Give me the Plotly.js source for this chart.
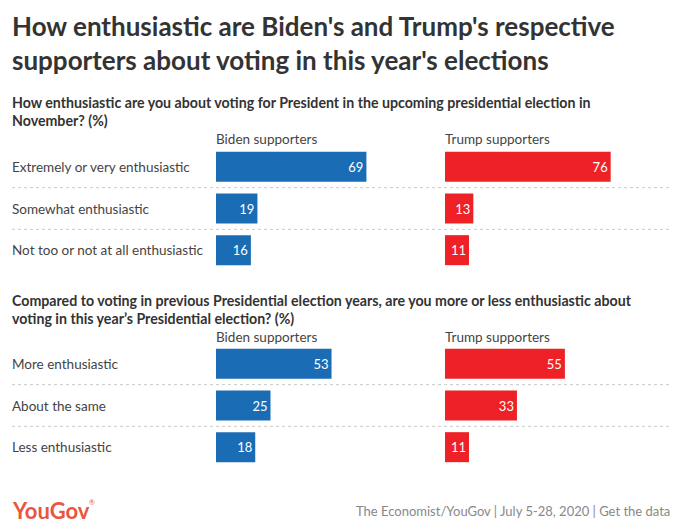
<!DOCTYPE html>
<html>
<head>
<meta charset="utf-8">
<script src="https://cdn.plot.ly/plotly-3.0.1.min.js"></script>
<style>html,body{margin:0;padding:0;background:#fff;}#chart{width:680px;height:532px;}</style>
</head>
<body>
<div id="chart"></div>
<script>
const q1Categories = ["Extremely or very enthusiastic", "Somewhat enthusiastic", "Not too or not at all enthusiastic"];
const q1Biden = [69, 19, 16];
const q1Trump = [76, 13, 11];
const q2Categories = ["More enthusiastic", "About the same", "Less enthusiastic"];
const q2Biden = [53, 25, 18];
const q2Trump = [55, 33, 11];
const groupLabels = ["Biden supporters", "Trump supporters"];

const BLUE = "#1a6db5";
const RED = "#ee2127";
const FONT = "Lato, 'Open Sans', sans-serif";

function bar(cats, vals, color, xa, ya) {
  return {
    type: "bar", orientation: "h", y: cats, x: vals,
    xaxis: xa, yaxis: ya,
    marker: {color: color},
    width: 0.72,
    text: vals.map(String), textposition: "inside", insidetextanchor: "end",
    textfont: {color: "#fff", size: 13, family: FONT},
    hoverinfo: "skip", showlegend: false, cliponaxis: false
  };
}

const data = [
  bar(q1Categories, q1Biden, BLUE, "x", "y"),
  bar(q1Categories, q1Trump, RED, "x2", "y"),
  bar(q2Categories, q2Biden, BLUE, "x3", "y2"),
  bar(q2Categories, q2Trump, RED, "x4", "y2")
];

const W = 680, H = 532;
const bDom = [216 / W, 434 / W];
const tDom = [445 / W, 663 / W];
const xAx = (dom, anchor) => ({domain: dom, range: [0, 100], anchor: anchor, visible: false, fixedrange: true});
const yTop = [1 - 271 / H, 1 - 146 / H];
const yBot = [1 - 468 / H, 1 - 343 / H];
const yAx = (dom) => ({domain: dom, autorange: false, range: [2.5, -0.5], type: "category", visible: false, fixedrange: true});

const annotations = [];
function catLabels(cats, ya) {
  cats.forEach(c => annotations.push({
    xref: "paper", yref: ya, x: 10 / W, y: c, text: c, showarrow: false,
    xanchor: "left", yanchor: "middle", font: {size: 13.5, color: "#444", family: FONT}
  }));
}
catLabels(q1Categories, "y");
catLabels(q2Categories, "y2");

function header(text, xpx, ypx) {
  annotations.push({xref: "paper", yref: "paper", x: xpx / W, y: 1 - ypx / H, text: text,
    showarrow: false, xanchor: "left", yanchor: "middle", font: {size: 13.5, color: "#444", family: FONT}});
}
header(groupLabels[0], 214, 139);
header(groupLabels[1], 443, 139);
header(groupLabels[0], 214, 337);
header(groupLabels[1], 443, 337);

annotations.push({xref: "paper", yref: "paper", x: 10 / W, y: 1 - 8 / H, yanchor: "top", xanchor: "left",
  align: "left", showarrow: false,
  text: "<b>How enthusiastic are Biden's and Trump's respective<br>supporters about voting in this year's elections</b>",
  font: {size: 26, color: "#333", family: FONT}});

annotations.push({xref: "paper", yref: "paper", x: 10 / W, y: 1 - 92 / H, yanchor: "top", xanchor: "left",
  align: "left", showarrow: false,
  text: "<b>How enthusiastic are you about voting for President in the upcoming presidential election in<br>November? (%)</b>",
  font: {size: 14.2, color: "#333", family: FONT}});
annotations.push({xref: "paper", yref: "paper", x: 10 / W, y: 1 - 290 / H, yanchor: "top", xanchor: "left",
  align: "left", showarrow: false,
  text: "<b>Compared to voting in previous Presidential election years, are you more or less enthusiastic about<br>voting in this year’s Presidential election? (%)</b>",
  font: {size: 14.2, color: "#333", family: FONT}});

annotations.push({xref: "paper", yref: "paper", x: 10 / W, y: 1 - 510 / H, yanchor: "middle", xanchor: "left",
  showarrow: false, text: "<b>YouGov</b>",
  font: {size: 22, color: "#ea5540", family: FONT}});
annotations.push({xref: "paper", yref: "paper", x: 87 / W, y: 1 - 502 / H, yanchor: "middle", xanchor: "left",
  showarrow: false, text: "®",
  font: {size: 7, color: "#ea5540", family: FONT}});
annotations.push({xref: "paper", yref: "paper", x: 672 / W, y: 1 - 511 / H, yanchor: "middle", xanchor: "right",
  showarrow: false, text: "The Economist/YouGov | July 5-28, 2020 | Get the data",
  font: {size: 13, color: "#888", family: FONT}});

const shapes = [];
[["y", 0.5], ["y", 1.5], ["y2", 0.5], ["y2", 1.5]].forEach(([ya, yv]) => shapes.push({
  type: "line", xref: "paper", yref: ya, x0: 12 / W, x1: 670 / W, y0: yv, y1: yv,
  line: {color: "#c8c8c8", width: 1, dash: "dot"}
}));

const layout = {
  width: W, height: H,
  margin: {l: 0, r: 0, t: 0, b: 0},
  paper_bgcolor: "#fff", plot_bgcolor: "rgba(0,0,0,0)",
  xaxis: xAx(bDom, "y"), xaxis2: xAx(tDom, "y"),
  xaxis3: xAx(bDom, "y2"), xaxis4: xAx(tDom, "y2"),
  yaxis: yAx(yTop), yaxis2: yAx(yBot),
  annotations: annotations, shapes: shapes,
  bargap: 0.28
};

Plotly.newPlot("chart", data, layout, {displayModeBar: false, staticPlot: true});
</script>
</body>
</html>
